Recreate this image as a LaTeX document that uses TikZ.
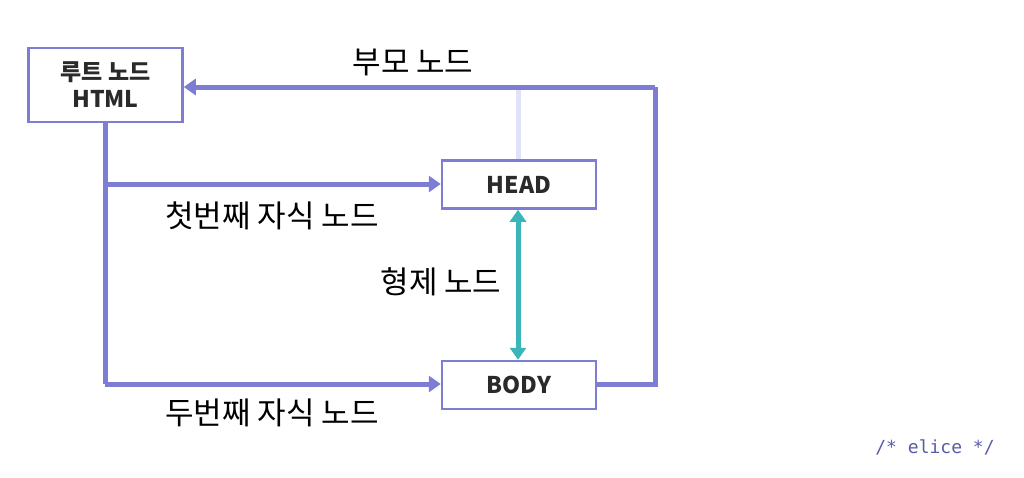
\documentclass[tikz,border=0pt]{standalone}
\usepackage{fontspec}
\setmainfont{Noto Sans CJK KR}
\newfontfamily\monofont{DejaVu Sans Mono}
\usetikzlibrary{arrows.meta}
\definecolor{pur}{HTML}{7D7DD4}
\definecolor{faint}{HTML}{E1E1F9}
\definecolor{teal2}{HTML}{3AB6BA}
\definecolor{txt}{HTML}{2A2A2A}
\definecolor{logo}{HTML}{5A5AAA}
\tikzset{
  box/.style={draw=pur, line width=2.5pt, fill=white, minimum width=154pt, inner sep=0pt, text=txt, font=\fontsize{23}{27}\selectfont\bfseries, align=center},
  conn/.style={draw=pur, line width=5pt},
  arr/.style={conn, -{Triangle[length=12pt,width=16pt]}},
  lbl/.style={font=\fontsize{31}{34}\selectfont, text=black, inner sep=0pt},
}
\begin{document}
\begin{tikzpicture}[x=1pt,y=-1pt]
\useasboundingbox (0,0) rectangle (1024,477);
\node[box, minimum height=74pt] (html) at (105.5,85) {루트 노드\\HTML};
\node[box, minimum height=48pt] (head) at (519,184.5) {HEAD};
\node[box, minimum height=48pt] (body) at (519,385) {BODY};
\coordinate (tr) at (655,87);
\coordinate (br) at (655,384);
\coordinate (hd) at (105,184);
\coordinate (bl) at (105,384);
\coordinate (ft) at (518,87);
\draw[faint, line width=5pt] (ft) -- (head.north -| ft);
\draw[conn] (body.east |- br) -- (br) -- (tr);
\draw[arr] (tr) -- (html.east |- tr);
\draw[conn] (html.south -| bl) -- (bl);
\draw[arr] (bl) -- (body.west |- bl);
\draw[arr] (hd) -- (head.west |- hd);
\draw[teal2, line width=5pt, {Triangle[length=12pt,width=16pt]}-{Triangle[length=12pt,width=16pt]}] (head.south -| ft) -- (body.north -| ft);
\node[lbl] (parent) at (413,62) {부모 노드};
\node[lbl] (first) at (272,216) {첫번째 자식 노드};
\node[lbl] (second) at (272,413) {두번째 자식 노드};
\node[lbl] (sib) at (441,282) {형제 노드};
\node[font=\monofont\fontsize{18}{22}\selectfont, text=logo, inner sep=0pt] (logo) at (935,447) {/* elice */};
\end{tikzpicture}
\end{document}
